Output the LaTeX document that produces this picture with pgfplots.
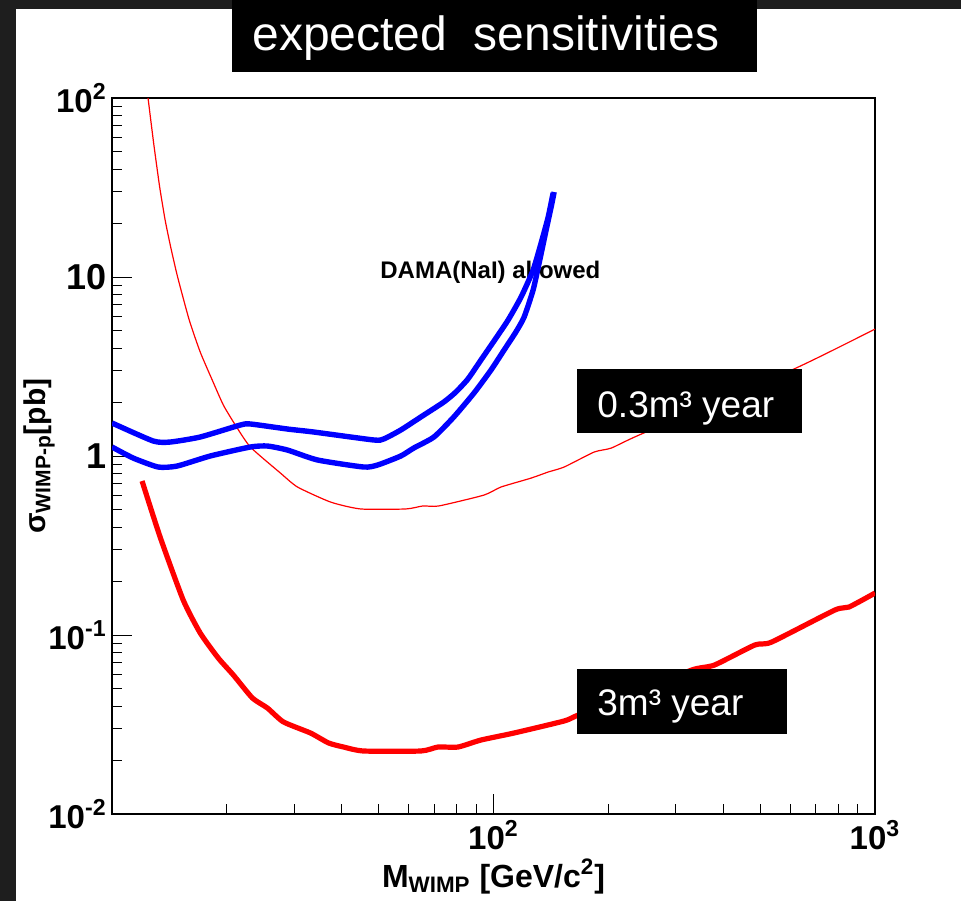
\documentclass[border=0pt]{standalone}
\usepackage{fontspec}
\setmainfont{Liberation Sans}
\usepackage{pgfplots}
\pgfplotsset{compat=1.18}
\definecolor{bgdark}{HTML}{1E1E1E}

\pgfplotstableread{
m s
12.43 100
12.86 55.8
13.33 31.96
13.78 20.82
14.25 14.71
14.86 10.0
15.94 5.75
17.03 3.81
18.31 2.66
19.58 1.928
21.05 1.49
23.05 1.123
27.64 0.803
30.64 0.671
37.41 0.553
44.85 0.506
58.9 0.506
65.3 0.526
71.9 0.526
94.4 0.605
104.6 0.671
125.5 0.753
139.1 0.814
153.2 0.868
183.7 1.053
203.6 1.108
244.2 1.327
612.5 3.06
1000 5.12
}\thinred

\pgfplotstableread{
m s
11.99 0.725
13.37 0.3527
15.37 0.1568
17.03 0.1026
18.99 0.0744
20.80 0.0598
23.33 0.0445
25.55 0.0391
28.14 0.0327
33.14 0.02835
36.97 0.02493
40.48 0.02367
45.67 0.02249
64.5 0.02249
71.5 0.02367
80.7 0.02367
92.7 0.0259
113.2 0.02835
153.2 0.0331
166.8 0.0357
236.8 0.04681
330.4 0.0637
379.7 0.0680
483.7 0.0879
536.2 0.0914
784.9 0.1379
854.6 0.1433
1000 0.1716
}\thickred

\pgfplotstableread{
m s
10 1.529
12.82 1.213
14.21 1.197
17.03 1.277
21.70 1.490
23.05 1.510
28.83 1.415
33.76 1.362
48.52 1.229
51.55 1.245
57.14 1.397
64.5 1.652
74.1 2.003
79.7 2.278
85.7 2.693
92.7 3.438
100.3 4.39
109.2 5.75
118.1 7.73
127.0 10.94
133.3 15.49
139.1 21.63
143.3 29.47
}\blueup

\pgfplotstableread{
m s
10 1.123
11.36 0.9745
13.21 0.868
14.82 0.879
18.09 1.0
23.05 1.123
25.55 1.137
28.83 1.080
34.58 0.950
45.67 0.868
49.71 0.891
57.14 1.0
61.8 1.108
69.8 1.277
78.7 1.652
88.9 2.249
98.5 3.022
106.6 3.910
114.6 4.95
120.3 5.976
127.0 8.461
131.7 11.97
137.4 18.31
141.6 24.61
144.2 29.85
}\bluelow

\begin{document}
\begin{tikzpicture}
\useasboundingbox (0pt,0pt) rectangle (480.5pt,450.5pt);
\fill[bgdark] (0pt,0pt) rectangle (480.5pt,450.5pt);
\fill[white] (8pt,0pt) rectangle (480.5pt,446pt);
\node[anchor=base west, inner sep=0pt, font=\bfseries\fontsize{12}{12}\selectfont] at (190pt,311.5pt) {DAMA(NaI) allowed};
\begin{axis}[
  at={(56pt,43.5pt)}, anchor=south west,
  scale only axis, width=381.5pt, height=358pt,
  xmode=log, ymode=log,
  xmin=10, xmax=1000, ymin=0.01, ymax=100,
  xtick={100,1000},
  xticklabels={10\textsuperscript{2},10\textsuperscript{3}},
  minor xtick={20,30,40,50,60,70,80,90,200,300,400,500,600,700,800,900},
  ytick={0.01,0.1,1,10,100},
  yticklabels={10\textsuperscript{-2},10\textsuperscript{-1},{\fontsize{18}{18}\selectfont 1},{\fontsize{18}{18}\selectfont 10},10\textsuperscript{2}},
  minor ytick={0.02,0.03,0.04,0.05,0.06,0.07,0.08,0.09,0.2,0.3,0.4,0.5,0.6,0.7,0.8,0.9,2,3,4,5,6,7,8,9,20,30,40,50,60,70,80,90},
  tick align=inside, tick pos=left,
  major tick length=10pt, minor tick length=5pt,
  every tick/.append style={black, line width=0.5pt},
  axis line style={line width=0.6pt},
  tick label style={font=\bfseries\fontsize{16.5}{16.5}\selectfont},
  yticklabel style={inner sep=2.5pt},
  xticklabel style={inner sep=3pt},
  xlabel={M\textsubscript{WIMP} [GeV/c\textsuperscript{2}]},
  ylabel={σ\textsubscript{WIMP-p}[pb]},
  every axis x label/.style={at={(axis description cs:0.5,-0.087)}, anchor=center, font=\bfseries\fontsize{16}{16}\selectfont},
  every axis y label/.style={at={(axis description cs:-0.095,0.5)}, rotate=90, anchor=center, font=\bfseries\fontsize{15}{15}\selectfont},
  clip=true,
]
\addplot[red, line width=0.6pt, smooth, tension=0.35] table[x=m,y=s] {\thinred};
\addplot[red, line width=2.6pt, smooth, tension=0.35] table[x=m,y=s] {\thickred};
\addplot[blue, line width=2.7pt, smooth, tension=0.35] table[x=m,y=s] {\blueup};
\addplot[blue, line width=2.7pt, smooth, tension=0.35] table[x=m,y=s] {\bluelow};
\end{axis}
\fill[black] (116pt,414.5pt) rectangle (378.5pt,450.5pt);
\node[anchor=base west, inner sep=0pt, text=white, font=\fontsize{24}{24}\selectfont] at (126pt,425.2pt) {expected\ \ sensitivities};
\fill[black] (288.5pt,234pt) rectangle (401pt,266pt);
\node[anchor=base west, inner sep=0pt, text=white, font=\fontsize{18.5}{18.5}\selectfont] at (298.5pt,242pt) {0.3m³ year};
\fill[black] (288.5pt,83.5pt) rectangle (393.5pt,116pt);
\node[anchor=base west, inner sep=0pt, text=white, font=\fontsize{18.5}{18.5}\selectfont] at (298.5pt,93pt) {3m³ year};
\end{tikzpicture}
\end{document}
